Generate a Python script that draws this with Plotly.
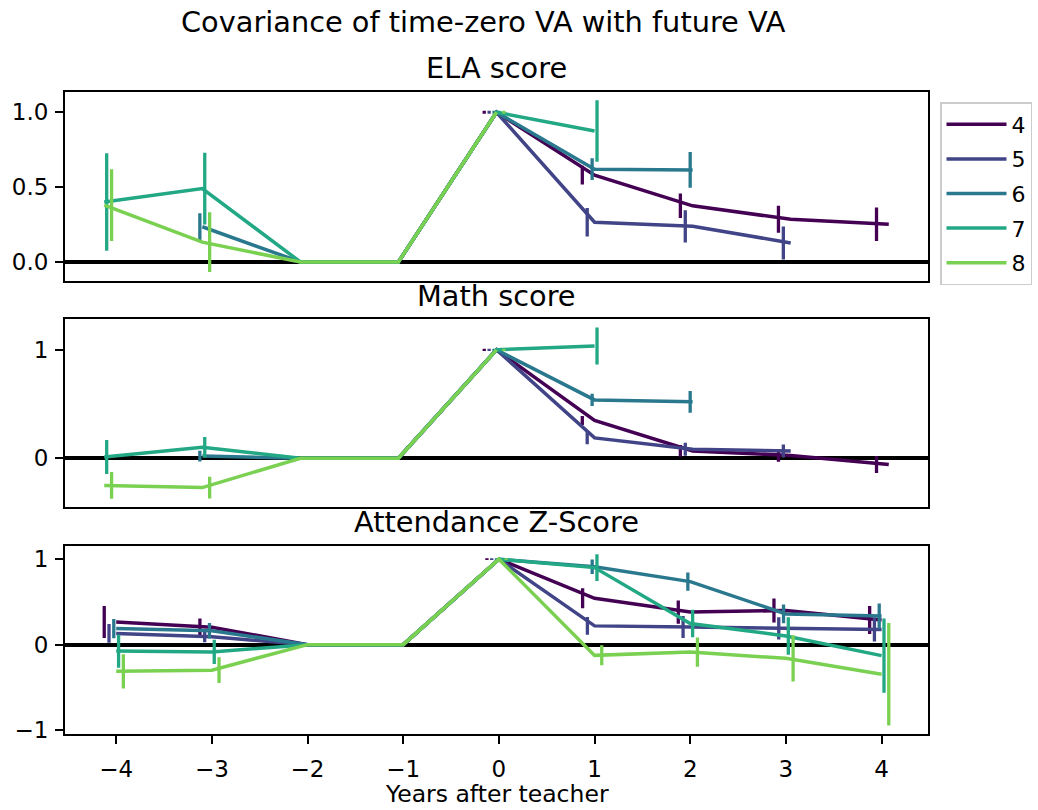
import plotly.graph_objects as go

# Years relative to the teacher year
years = [-4, -3, -2, -1, 0, 1, 2, 3, 4]
year_labels = ["\u22124", "\u22123", "\u22122", "\u22121", "0", "1", "2", "3", "4"]
grades = ["4", "5", "6", "7", "8"]
colors = ["#440154", "#414487", "#2a788e", "#22a884", "#7ad151"]

# ELA score: covariance by grade, and error half-widths
ela_g4 = [None, None, 0, 0, 1, 0.58, 0.375, 0.285, 0.252]
ela_g5 = [None, None, 0, 0, 1, 0.265, 0.238, 0.127, None]
ela_g6 = [None, 0.235, 0, 0, 1, 0.62, 0.615, None, None]
ela_g7 = [0.40, 0.49, 0, 0, 1, 0.875, None, None, None]
ela_g8 = [0.38, 0.132, 0, 0, 1, None, None, None, None]
ela_e4 = [None, None, 0, 0, 0.01, 0.062, 0.082, 0.09, 0.112]
ela_e5 = [None, None, 0, 0, 0.01, 0.095, 0.108, 0.11, None]
ela_e6 = [None, 0.09, 0, 0, 0.01, 0.072, 0.12, None, None]
ela_e7 = [0.326, 0.24, 0, 0, 0.01, 0.205, None, None, None]
ela_e8 = [0.24, 0.2, 0, 0, 0.01, None, None, None, None]

# Math score
math_g4 = [None, None, 0, 0, 1, 0.348, 0.068, 0.026, -0.058]
math_g5 = [None, None, 0, 0, 1, 0.188, 0.083, 0.067, None]
math_g6 = [None, 0.02, 0, 0, 1, 0.538, 0.52, None, None]
math_g7 = [0.012, 0.102, 0, 0, 1, 1.035, None, None, None]
math_g8 = [-0.25, -0.27, 0, 0, 1, None, None, None, None]
math_e4 = [None, None, 0, 0, 0.01, 0.042, 0.054, 0.057, 0.078]
math_e5 = [None, None, 0, 0, 0.01, 0.058, 0.06, 0.06, None]
math_e6 = [None, 0.05, 0, 0, 0.01, 0.057, 0.1, None, None]
math_e7 = [0.157, 0.095, 0, 0, 0.01, 0.17, None, None, None]
math_e8 = [0.123, 0.1, 0, 0, 0.01, None, None, None, None]

# Attendance Z-Score
att_g4 = [0.265, 0.205, 0, 0, 1, 0.543, 0.382, 0.40, 0.29]
att_g5 = [0.132, 0.092, 0, 0, 1, 0.22, 0.207, 0.192, 0.178]
att_g6 = [0.188, 0.163, 0, 0, 1, 0.912, 0.738, 0.36, 0.335]
att_g7 = [-0.075, -0.085, 0, 0, 1, 0.902, 0.248, 0.102, -0.128]
att_g8 = [-0.312, -0.298, 0, 0, 1, -0.125, -0.087, -0.16, -0.345]
att_e4 = [0.187, 0.1, 0, 0, 0.01, 0.117, 0.136, 0.14, 0.164]
att_e5 = [0.11, 0.063, 0, 0, 0.01, 0.104, 0.128, 0.13, 0.14]
att_e6 = [0.113, 0.09, 0, 0, 0.01, 0.084, 0.107, 0.11, 0.146]
att_e7 = [0.195, 0.142, 0, 0, 0.01, 0.156, 0.16, 0.22, 0.435]
att_e8 = [0.2, 0.15, 0, 0, 0.01, 0.117, 0.17, 0.27, 0.6]

panels = [
    ("ELA score", [ela_g4, ela_g5, ela_g6, ela_g7, ela_g8],
     [ela_e4, ela_e5, ela_e6, ela_e7, ela_e8],
     [0, 0.5, 1.0], ["0.0", "0.5", "1.0"]),
    ("Math score", [math_g4, math_g5, math_g6, math_g7, math_g8],
     [math_e4, math_e5, math_e6, math_e7, math_e8],
     [0, 1], ["0", "1"]),
    ("Attendance Z-Score", [att_g4, att_g5, att_g6, att_g7, att_g8],
     [att_e4, att_e5, att_e6, att_e7, att_e8],
     [-1, 0, 1], ["\u22121", "0", "1"]),
]

W, H = 1038, 810
FONT = "DejaVu Sans"
x_dom = [65 / W, 928 / W]
# panel frames in pixels (top, bottom) and title centres
frames = [(91.7, 280.7), (319.0, 507.3), (545.7, 734.0)]
title_y = [68, 296, 522]

fig = go.Figure()
layout = {}
title_font = dict(family=FONT, size=28.8, color="black")
annotations = []

for p, (title, vals, errs, ytv, ytt) in enumerate(panels):
    sfx = "" if p == 0 else str(p + 1)
    xs_all, ys_all = [], []
    for i, (g, c, v, e) in enumerate(zip(grades, colors, vals, errs)):
        pts = [(x, y, d) for x, y, d in zip(years, v, e) if y is not None]
        lx = [t[0] for t in pts]
        ly = [t[1] for t in pts]
        le = [t[2] for t in pts]
        off = (i - 2.5) * 0.05
        ex = [x + off for x in lx]
        xs_all += lx + ex
        ys_all += [y - d for y, d in zip(ly, le)] + [y + d for y, d in zip(ly, le)]
        fig.add_trace(go.Scatter(
            x=lx, y=ly, mode="lines", name=g, legendgroup=g,
            showlegend=(p == 0), line=dict(color=c, width=3.5),
            xaxis="x" + sfx, yaxis="y" + sfx, hoverinfo="skip"))
        fig.add_trace(go.Scatter(
            x=ex, y=ly, mode="markers", legendgroup=g, showlegend=False,
            marker=dict(size=1, color="rgba(0,0,0,0)"),
            error_y=dict(type="data", array=le, visible=True, width=0,
                         thickness=3.3, color=c),
            xaxis="x" + sfx, yaxis="y" + sfx, hoverinfo="skip"))

    x0, x1 = min(xs_all), max(xs_all)
    y0, y1 = min(ys_all), max(ys_all)
    px, py = 0.05 * (x1 - x0), 0.05 * (y1 - y0)
    top, bot = frames[p]
    last = p == len(panels) - 1
    layout["xaxis" + sfx] = dict(
        domain=x_dom, anchor="y" + sfx, range=[x0 - px, x1 + px],
        showgrid=False, zeroline=False, showline=True, mirror=True,
        linecolor="black", linewidth=1.9,
        ticks="outside" if last else "", ticklen=8, tickwidth=1.9,
        tickcolor="black", showticklabels=last,
        tickvals=years, ticktext=year_labels,
        tickfont=dict(family=FONT, size=23, color="black"),
        ticklabelstandoff=5)
    layout["yaxis" + sfx] = dict(
        domain=[1 - bot / H, 1 - top / H], anchor="x" + sfx,
        range=[y0 - py, y1 + py], showgrid=False,
        zeroline=True, zerolinecolor="black", zerolinewidth=3.5,
        showline=True, mirror=True, linecolor="black", linewidth=1.9,
        ticks="outside", ticklen=8, tickwidth=1.9, tickcolor="black",
        tickvals=ytv, ticktext=ytt,
        tickfont=dict(family=FONT, size=23, color="black"),
        ticklabelstandoff=2)
    annotations.append(dict(
        text=title, x=496.5 / W, y=1 - title_y[p] / H,
        xref="paper", yref="paper", xanchor="center", yanchor="middle",
        showarrow=False, font=title_font))

annotations += [
    dict(text="Covariance of time-zero VA with future VA", x=483.5 / W, y=1 - 22 / H,
         xref="paper", yref="paper", xanchor="center", yanchor="middle",
         showarrow=False, font=title_font),
    dict(text="Years after teacher", x=496.5 / W, y=0,
         xref="paper", yref="paper", xanchor="center", yanchor="bottom",
         showarrow=False, font=dict(family=FONT, size=23.5, color="black")),
]

fig.update_layout(
    width=W, height=H, margin=dict(l=0, r=0, t=0, b=0, autoexpand=False),
    paper_bgcolor="white", plot_bgcolor="white",
    annotations=annotations,
    legend=dict(x=940 / W, y=1 - 102 / H, xanchor="left", yanchor="top",
                bgcolor="white", bordercolor="#cccccc", borderwidth=1.5,
                font=dict(family=FONT, size=22, color="black"),
                tracegroupgap=3, itemwidth=60),
    **layout,
)

fig.write_html("out.html")
